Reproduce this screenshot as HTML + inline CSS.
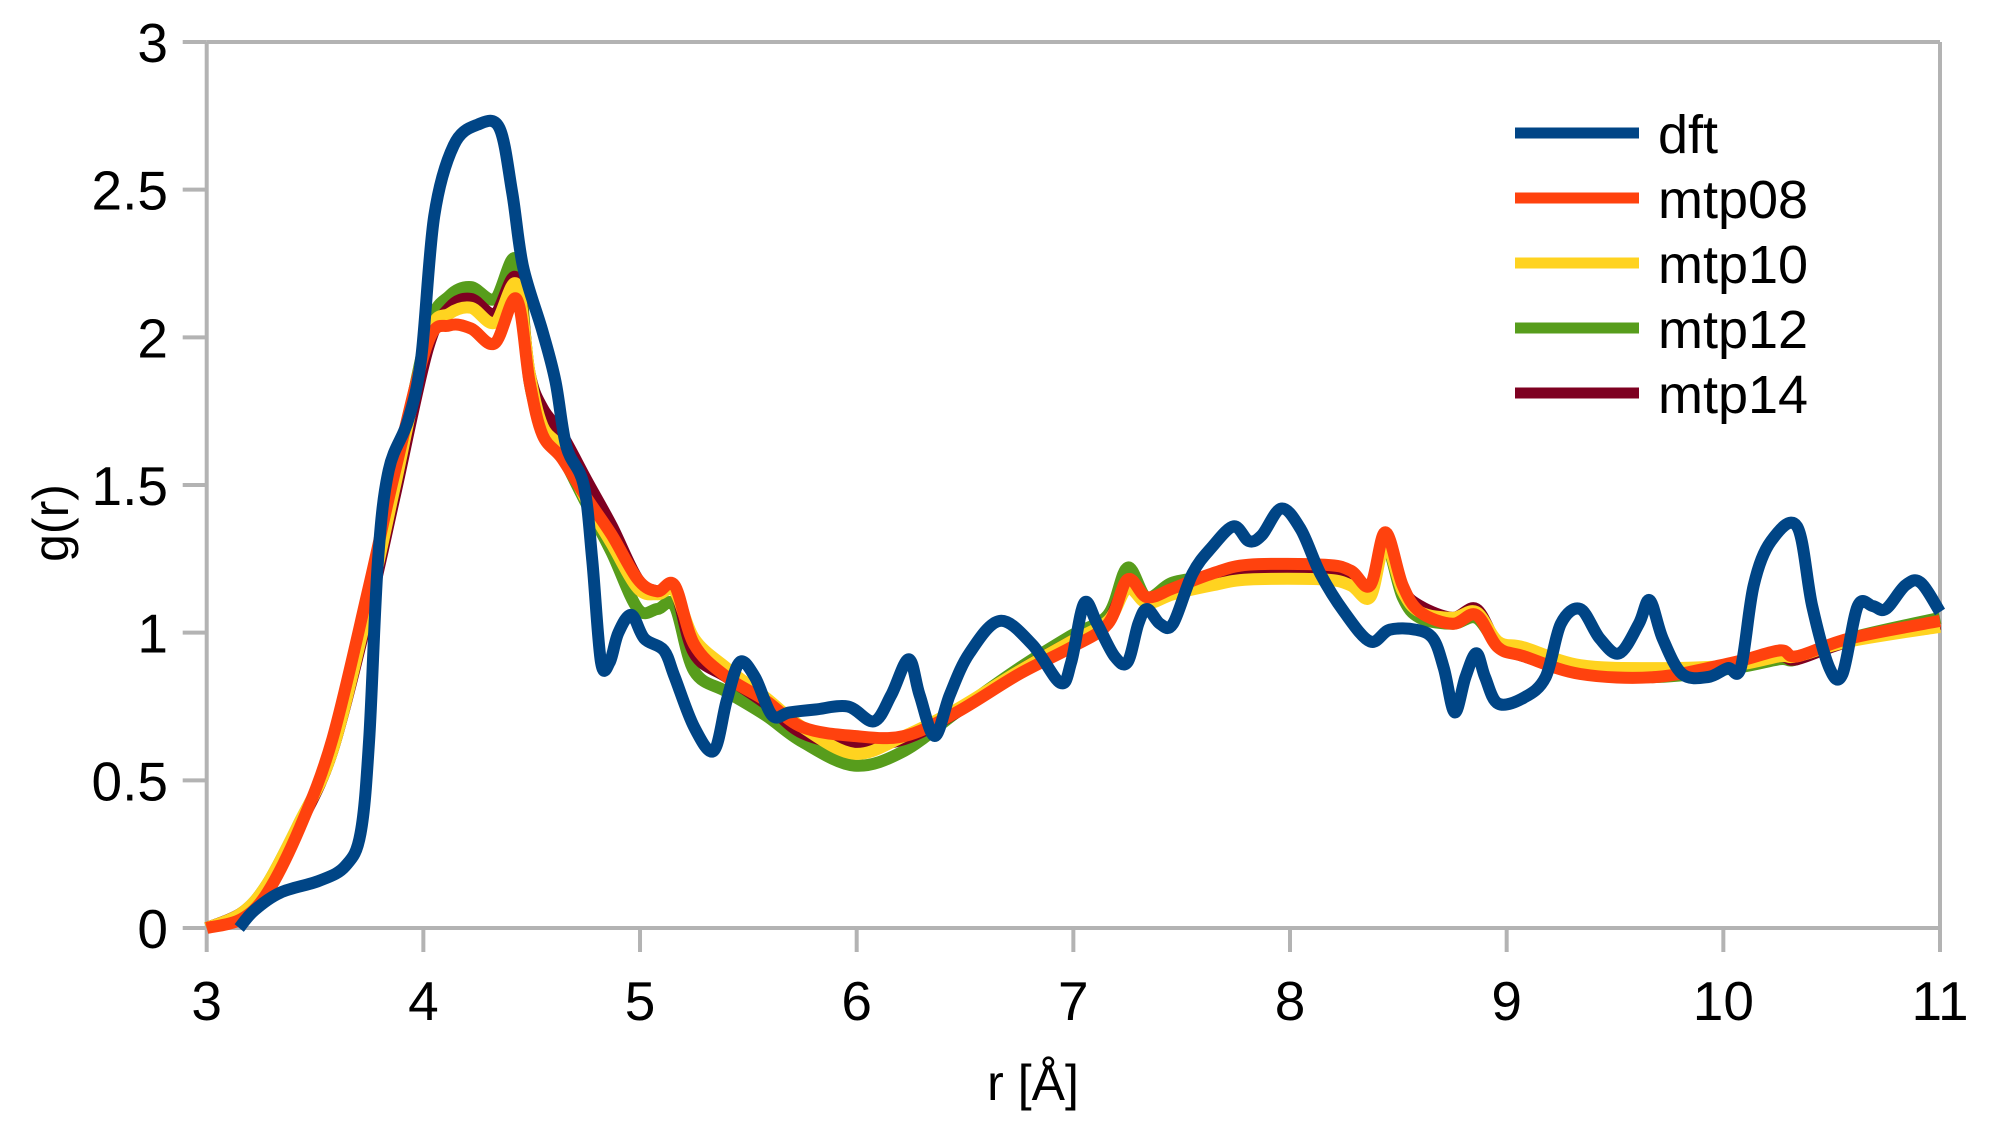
<!DOCTYPE html>
<html><head><meta charset="utf-8"><style>
html,body{margin:0;padding:0;background:#fff;}
svg{display:block;font-family:"Liberation Sans",sans-serif;}
</style></head><body>
<svg id="chart" width="2000" height="1130" viewBox="0 0 2000 1130">
<g id="axes"></g>
<g id="series"></g>
<g id="legend"></g>
</svg>
<script>
const xTicks = [3,4,5,6,7,8,9,10,11];
const yTicks = [0,0.5,1,1.5,2,2.5,3];
const yTickLabels = ["0","0.5","1","1.5","2","2.5","3"];
const dftR = [3.15,3.22,3.34,3.52,3.64,3.71,3.75,3.79,3.84,3.93,3.99,4.05,4.14,4.25,4.35,4.41,4.46,4.55,4.61,4.66,4.74,4.78,4.82,4.86,4.9,4.96,5.02,5.11,5.16,5.25,5.34,5.4,5.46,5.53,5.61,5.69,5.81,5.96,6.08,6.16,6.24,6.29,6.36,6.43,6.52,6.66,6.81,6.94,6.99,7.05,7.11,7.19,7.25,7.3,7.34,7.4,7.46,7.55,7.64,7.74,7.81,7.87,7.96,8.05,8.14,8.25,8.37,8.46,8.58,8.66,8.71,8.76,8.81,8.86,8.9,8.96,9.08,9.18,9.25,9.34,9.43,9.52,9.61,9.66,9.72,9.81,9.93,10.02,10.08,10.14,10.22,10.34,10.41,10.49,10.55,10.62,10.69,10.75,10.84,10.91,11.0];
const dftG = [0,0.06,0.12,0.16,0.21,0.32,0.64,1.24,1.55,1.72,1.93,2.41,2.65,2.72,2.71,2.49,2.24,2.02,1.85,1.63,1.50,1.24,0.90,0.90,1.0,1.06,0.98,0.94,0.85,0.68,0.60,0.77,0.90,0.85,0.72,0.73,0.74,0.75,0.70,0.79,0.91,0.79,0.65,0.79,0.93,1.04,0.96,0.83,0.90,1.10,1.03,0.92,0.90,1.03,1.08,1.03,1.03,1.20,1.29,1.36,1.31,1.33,1.42,1.35,1.20,1.07,0.97,1.01,1.01,0.98,0.88,0.73,0.85,0.93,0.85,0.76,0.78,0.85,1.03,1.08,0.98,0.93,1.03,1.11,0.98,0.86,0.85,0.88,0.88,1.16,1.31,1.36,1.09,0.88,0.86,1.09,1.09,1.08,1.16,1.17,1.07];
const mtpR = [3,3.16,3.28,3.43,3.58,3.75,3.87,4.02,4.12,4.22,4.33,4.43,4.49,4.55,4.64,4.75,4.87,4.99,5.08,5.16,5.25,5.4,5.58,5.75,5.99,6.22,6.46,6.75,6.99,7.16,7.25,7.34,7.46,7.64,7.81,8.16,8.28,8.37,8.44,8.52,8.6,8.75,8.86,8.96,9.08,9.34,9.69,10.05,10.26,10.34,10.58,11];
const mtp08 = [0,0.03,0.12,0.34,0.64,1.16,1.55,1.98,2.04,2.03,1.98,2.13,1.85,1.67,1.59,1.46,1.33,1.18,1.14,1.16,0.96,0.85,0.77,0.68,0.65,0.65,0.73,0.86,0.95,1.03,1.18,1.12,1.15,1.20,1.23,1.23,1.21,1.16,1.34,1.16,1.07,1.03,1.06,0.95,0.92,0.86,0.85,0.90,0.94,0.92,0.98,1.04];
const mtp10 = [0,0.05,0.15,0.36,0.6,1.1,1.5,2.0,2.08,2.10,2.05,2.18,1.88,1.7,1.62,1.45,1.3,1.15,1.13,1.14,0.98,0.88,0.78,0.68,0.59,0.65,0.74,0.87,0.97,1.04,1.15,1.1,1.13,1.16,1.18,1.18,1.16,1.12,1.30,1.14,1.07,1.05,1.07,0.97,0.95,0.89,0.88,0.89,0.92,0.92,0.97,1.02];
const mtp12 = [0,0.05,0.15,0.36,0.6,1.1,1.5,2.02,2.14,2.17,2.13,2.26,1.85,1.72,1.6,1.44,1.27,1.08,1.08,1.09,0.87,0.8,0.72,0.63,0.55,0.60,0.73,0.88,0.99,1.06,1.22,1.12,1.17,1.19,1.20,1.21,1.18,1.13,1.30,1.12,1.05,1.03,1.05,0.96,0.93,0.87,0.85,0.88,0.91,0.91,0.98,1.05];
const mtp14 = [0,0.05,0.14,0.35,0.6,1.08,1.47,1.96,2.10,2.13,2.08,2.2,1.88,1.76,1.67,1.52,1.36,1.18,1.14,1.15,0.93,0.85,0.76,0.66,0.62,0.64,0.73,0.87,0.97,1.04,1.17,1.1,1.15,1.18,1.2,1.21,1.19,1.15,1.32,1.15,1.09,1.05,1.08,0.96,0.92,0.87,0.86,0.89,0.92,0.91,0.97,1.03];
const seriesNames = ["dft","mtp08","mtp10","mtp12","mtp14"];

const NS="http://www.w3.org/2000/svg";
const X0=206.7,X1=1940,Y0=928,Y1=42;
function xs(v){return X0+(v-3)/8*(X1-X0);}
function ys(v){return Y0-v/3*(Y0-Y1);}
function mk(tag,attrs,parent){const e=document.createElementNS(NS,tag);for(const k in attrs)e.setAttribute(k,attrs[k]);parent.appendChild(e);return e;}
const axes=document.getElementById('axes');
const ser=document.getElementById('series');
const leg=document.getElementById('legend');
const gray="#b3b3b3";
let e=mk('line',{x1:X0,y1:Y0,x2:X1,y2:Y0,stroke:gray,'stroke-width':4},axes);


e=mk('line',{x1:X0,y1:Y0+2,x2:X0,y2:Y1,stroke:gray,'stroke-width':4},axes);


e=mk('line',{x1:X1,y1:Y0+2,x2:X1,y2:Y1,stroke:gray,'stroke-width':4},axes);


e=mk('line',{x1:X0,y1:Y1,x2:X1,y2:Y1,stroke:gray,'stroke-width':4},axes);


xTicks.forEach(t=>{
  const x=xs(t);
  let l=mk('line',{x1:x,y1:Y0,x2:x,y2:Y0+24,stroke:gray,'stroke-width':4},axes);
  
  
  let tx=mk('text',{x:x,y:1020,'font-size':55,'text-anchor':'middle',fill:'#000'},axes);
  tx.textContent=String(t);
  
  
});
yTicks.forEach((t,i)=>{
  const y=ys(t);
  let l=mk('line',{x1:X0-24,y1:y,x2:X0,y2:y,stroke:gray,'stroke-width':4},axes);
  
  
  let tx=mk('text',{x:168,y:y+20,'font-size':55,'text-anchor':'end',fill:'#000'},axes);
  tx.textContent=yTickLabels[i];
  
  
});
let xt=mk('text',{x:1033,y:1100,'font-size':50,'text-anchor':'middle',fill:'#000'},axes);
xt.textContent='r [Å]';


let yt=mk('text',{x:0,y:0,'font-size':50,'text-anchor':'middle',fill:'#000',transform:'translate(68,523) rotate(-90)'},axes);
yt.textContent='g(r)';



function pathFor(rs,gs){
  const p=rs.map((r,i)=>[xs(r),ys(gs[i])]);
  let d='M'+p[0][0].toFixed(1)+','+p[0][1].toFixed(1);
  for(let i=0;i<p.length-1;i++){
    const a=p[Math.max(i-1,0)],b=p[i],c=p[i+1],q=p[Math.min(i+2,p.length-1)];
    const c1x=b[0]+(c[0]-a[0])/6,c1y=b[1]+(c[1]-a[1])/6;
    const c2x=c[0]-(q[0]-b[0])/6,c2y=c[1]-(q[1]-b[1])/6;
    d+=' C'+c1x.toFixed(1)+','+c1y.toFixed(1)+' '+c2x.toFixed(1)+','+c2y.toFixed(1)+' '+c[0].toFixed(1)+','+c[1].toFixed(1);
  }
  return d;
}
const colors={dft:'#004586',mtp08:'#ff420e',mtp10:'#ffd320',mtp12:'#579d1c',mtp14:'#7e0021'};
const drawOrder=[['mtp12',mtp12],['mtp14',mtp14],['mtp10',mtp10],['mtp08',mtp08]];
drawOrder.forEach(([n,g])=>{
  const pth=mk('path',{d:pathFor(mtpR,g),fill:'none',stroke:colors[n],'stroke-width':12,'stroke-linejoin':'round'},ser);
  
  
});
const dp=mk('path',{d:pathFor(dftR,dftG),fill:'none',stroke:colors.dft,'stroke-width':12,'stroke-linejoin':'round'},ser);



seriesNames.forEach((n,i)=>{
  const y=133+i*65;
  const g=mk('g',{},leg);
  
  
  mk('line',{x1:1515,y1:y,x2:1639,y2:y,stroke:colors[n],'stroke-width':11},g);
  const t=mk('text',{x:1658,y:y+20,'font-size':54,fill:'#000'},g);
  t.textContent=n;
});
</script>
</body></html>
